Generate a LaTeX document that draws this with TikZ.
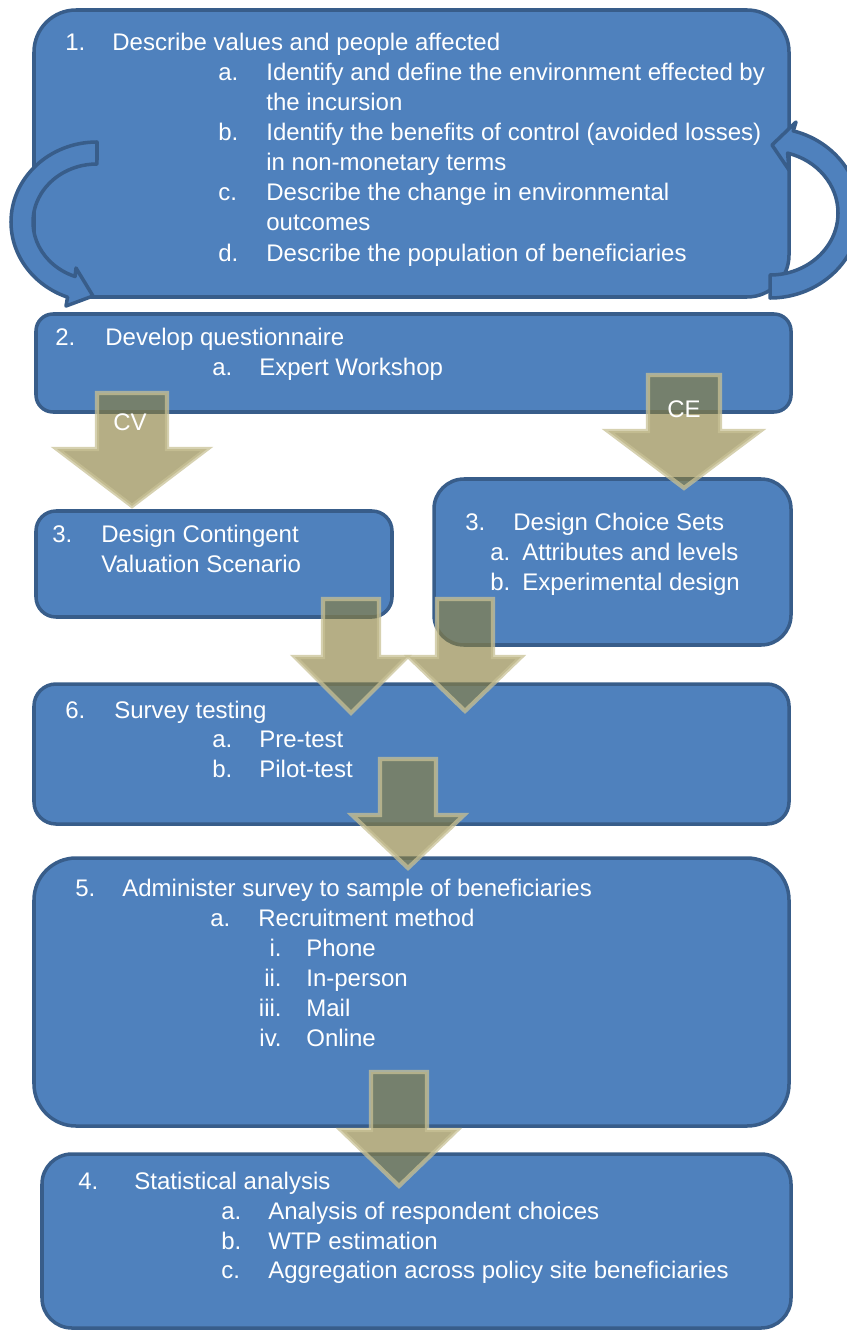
\documentclass[tikz,border=0pt]{standalone}
\usepackage{fontspec}
\setmainfont{Liberation Sans}
\usetikzlibrary{fit}

\definecolor{boxfill}{HTML}{4F81BD}
\definecolor{boxline}{HTML}{385D8A}
\definecolor{arrfill}{RGB}{139,128,64}
\definecolor{arrline}{RGB}{200,193,150}

\newcommand{\blockdown}[6]{%
  \draw[blk] (#1-#5,#2) -- (#1+#5,#2) -- (#1+#5,#3) -- (#1+#6,#3) -- (#1,#4) -- (#1-#6,#3) -- (#1-#5,#3) -- cycle;}

\begin{document}
\begin{tikzpicture}[x=0.02cm, y=-0.02cm,
  box/.style={draw=boxline, fill=boxfill, line width=2pt, inner sep=0pt},
  curvarrow/.style={draw=boxline, fill=boxfill, line width=2pt, line join=round},
  blk/.style={fill=arrfill, fill opacity=0.64, draw=arrline, draw opacity=0.75, line width=2.4pt},
  lbl/.style={text=white, inner sep=0pt, anchor=base west, font=\fontsize{13.66pt}{17pt}\selectfont},
  rlbl/.style={lbl, anchor=base east}]

\useasboundingbox (0,0) rectangle (847,1331);

\node[box, rounded corners=42*0.02cm, fit={(34,10) (789,297)}] (b1) {};

\draw[curvarrow] (97,142) arc[start angle=-90, end angle=-250, x radius=86, y radius=80]
  -- (66,306) -- (93,296) -- (76,268) -- (75.1,276.5)
  arc[start angle=-250, end angle=-90, x radius=64, y radius=58] -- cycle;
\draw[curvarrow] (770,275) arc[start angle=90, end angle=-75, x radius=68, y radius=62]
  -- (789,170) -- (772,145) -- (796,122) -- (793.3,130.9)
  arc[start angle=-75, end angle=90, x radius=90, y radius=85] -- cycle;

\node[box, rounded corners=17*0.02cm, fit={(36,314) (791,412)}] (b2) {};
\node[box, rounded corners=20*0.02cm, fit={(36,511) (392,617)}] (b3cv) {};
\node[box, rounded corners=30*0.02cm, fit={(434,479) (791,645)}] (b3ce) {};
\node[box, rounded corners=22*0.02cm, fit={(34,684) (789,824)}] (b6) {};
\node[box, rounded corners=42*0.02cm, fit={(34,858) (789,1126)}] (b5) {};
\node[box, rounded corners=30*0.02cm, fit={(42,1154) (791,1328)}] (b4) {};

\node[lbl] (n1) at (65,51) {1.};
\node[lbl] (t1) at (112,51) {Describe values and people affected};
\node[lbl] (n1a) at (218,81) {a.};
\node[lbl] (t1a) at (266,81) {Identify and define the environment effected by};
\node[lbl] (t1a2) at (266,111) {the incursion};
\node[lbl] (n1b) at (218,141) {b.};
\node[lbl] (t1b) at (266,141) {Identify the benefits of control (avoided losses)};
\node[lbl] (t1b2) at (266,171) {in non-monetary terms};
\node[lbl] (n1c) at (218,201) {c.};
\node[lbl] (t1c) at (266,201) {Describe the change in environmental};
\node[lbl] (t1c2) at (266,231) {outcomes};
\node[lbl] (n1d) at (218,261) {d.};
\node[lbl] (t1d) at (266,261) {Describe the population of beneficiaries};

\node[lbl] (n2) at (55,345) {2.};
\node[lbl] (t2) at (105,345) {Develop questionnaire};
\node[lbl] (n2a) at (212,375) {a.};
\node[lbl] (t2a) at (259,375) {Expert Workshop};

\node[lbl] (n3cv) at (52,542) {3.};
\node[lbl] (t3cv) at (101,542) {Design Contingent};
\node[lbl] (t3cv2) at (101,572) {Valuation Scenario};

\node[lbl] (n3ce) at (465,530) {3.};
\node[lbl] (t3ce) at (513,530) {Design Choice Sets};
\node[lbl] (n3cea) at (490,560) {a.};
\node[lbl] (t3cea) at (522,560) {Attributes and levels};
\node[lbl] (n3ceb) at (490,590) {b.};
\node[lbl] (t3ceb) at (522,590) {Experimental design};

\node[lbl] (n6) at (65,718) {6.};
\node[lbl] (t6) at (114,718) {Survey testing};
\node[lbl] (n6a) at (212,747) {a.};
\node[lbl] (t6a) at (259,747) {Pre-test};
\node[lbl] (n6b) at (212,777) {b.};
\node[lbl] (t6b) at (259,777) {Pilot-test};

\node[lbl] (n5) at (75,896) {5.};
\node[lbl] (t5) at (122,896) {Administer survey to sample of beneficiaries};
\node[lbl] (n5a) at (210,926) {a.};
\node[lbl] (t5a) at (258,926) {Recruitment method};
\node[rlbl] (n5i) at (282,956) {i.};
\node[lbl] (t5i) at (306,956) {Phone};
\node[rlbl] (n5ii) at (282,986) {ii.};
\node[lbl] (t5ii) at (306,986) {In-person};
\node[rlbl] (n5iii) at (282,1016) {iii.};
\node[lbl] (t5iii) at (306,1016) {Mail};
\node[rlbl] (n5iv) at (282,1046) {iv.};
\node[lbl] (t5iv) at (306,1046) {Online};

\node[lbl] (n4) at (78,1189) {4.};
\node[lbl] (t4) at (134,1189) {Statistical analysis};
\node[lbl] (n4a) at (221,1219) {a.};
\node[lbl] (t4a) at (268,1219) {Analysis of respondent choices};
\node[lbl] (n4b) at (221,1249) {b.};
\node[lbl] (t4b) at (268,1249) {WTP estimation};
\node[lbl] (n4c) at (221,1278) {c.};
\node[lbl] (t4c) at (268,1278) {Aggregation across policy site beneficiaries};

\blockdown{132}{393}{449}{506}{35}{75}
\blockdown{684}{375}{431}{488}{36}{76}
\blockdown{351}{599}{657}{713}{28}{56}
\blockdown{465}{599}{657}{711}{28}{56}
\blockdown{408}{759}{815}{868}{28}{56}
\blockdown{399}{1072}{1130}{1186}{28}{58}

\node[lbl, anchor=center] (cv) at (130,422) {CV};
\node[lbl, anchor=center] (ce) at (684,409) {CE};

\end{tikzpicture}
\end{document}
